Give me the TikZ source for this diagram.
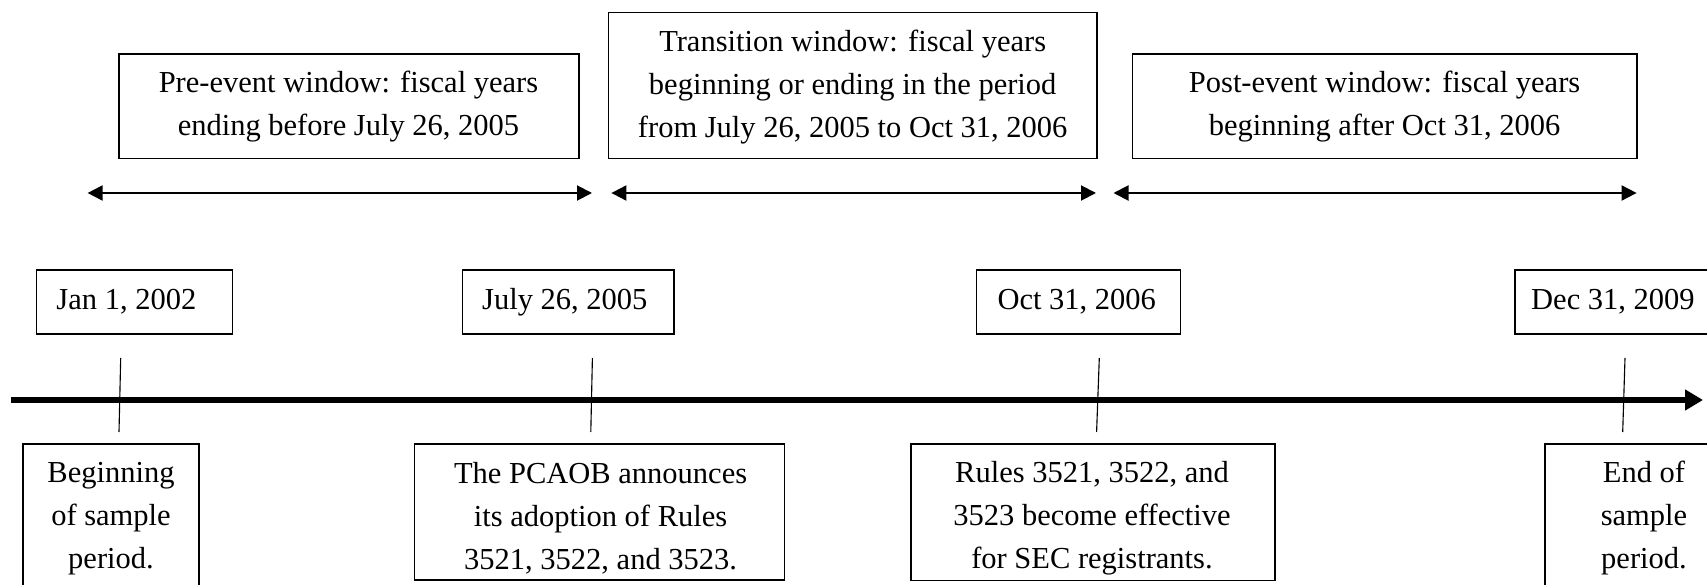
\documentclass[tikz,border=0pt]{standalone}
\usepackage{fontspec}
\setmainfont{Liberation Serif}
\usetikzlibrary{arrows.meta}
\def\pxu{0.4pt}
\begin{document}
\begin{tikzpicture}[x=0.4pt,y=-0.4pt,
  box/.style={draw, line width=0.55pt, inner sep=0pt},
  txt/.style={inner sep=0pt, align=center, font=\fontsize{12.2}{17.2}\selectfont},
  dtxt/.style={inner sep=0pt, anchor=base west, font=\fontsize{12.2}{17.2}\selectfont},
  winarrow/.style={line width=0.8pt, {Triangle[length=6pt,width=6pt]}-{Triangle[length=6pt,width=6pt]}},
  axisline/.style={line width=2.4pt, -{Triangle[length=7.2pt,width=8pt]}},
  tickline/.style={line width=0.45pt}]
\useasboundingbox (0,0) rectangle (1707,585);
\clip (0,0) rectangle (1707,585);

% window boxes
\node[box, minimum width=460*\pxu, minimum height=104.7*\pxu] (pre) at (349,106.35) {};
\node[box, minimum width=488.3*\pxu, minimum height=146.4*\pxu] (trans) at (852.85,85.5) {};
\node[box, minimum width=504.5*\pxu, minimum height=104.7*\pxu] (post) at (1384.75,106.35) {};
\node[txt] (pret) at (348.5,107) {Pre-event window: fiscal years\\ending before July 26, 2005};
\node[txt] (transt) at (852.7,87.5) {Transition window: fiscal years\\beginning or ending in the period\\from July 26, 2005 to Oct 31, 2006};
\node[txt] (postt) at (1384.6,107) {Post-event window: fiscal years\\beginning after Oct 31, 2006};

% window arrows
\coordinate (a1l) at (87.6,193);  \coordinate (a1r) at (592,193);
\coordinate (a2l) at (611.4,193); \coordinate (a2r) at (1096,193);
\coordinate (a3l) at (1113.5,193); \coordinate (a3r) at (1636.6,193);
\draw[winarrow] (a1l) -- (a1r);
\draw[winarrow] (a2l) -- (a2r);
\draw[winarrow] (a3l) -- (a3r);

% date boxes
\node[box, minimum width=196*\pxu, minimum height=64*\pxu] (d1) at (134.7,302) {};
\node[box, minimum width=211.3*\pxu, minimum height=64*\pxu] (d2) at (568.35,302) {};
\node[box, minimum width=204*\pxu, minimum height=64*\pxu] (d3) at (1078.7,302) {};
\node[box, minimum width=215*\pxu, minimum height=64*\pxu] (d4) at (1622.5,302) {};
\node[dtxt] (d1t) at (56,310) {Jan 1, 2002};
\node[dtxt] (d2t) at (481.7,310) {July 26, 2005};
\node[dtxt] (d3t) at (997,310) {Oct 31, 2006};
\node[dtxt] (d4t) at (1530.7,310) {Dec 31, 2009};

% axis
\coordinate (axl) at (11,400); \coordinate (axr) at (1703,400);
\draw[axisline] (axl) -- (axr);

% ticks
\coordinate (t1a) at (120.7,358); \coordinate (t1b) at (119,432);
\coordinate (t2a) at (592.4,358); \coordinate (t2b) at (590.8,432);
\coordinate (t3a) at (1099.3,358); \coordinate (t3b) at (1096.6,432);
\coordinate (t4a) at (1625,358); \coordinate (t4b) at (1622.7,432);
\draw[tickline] (t1a) -- (t1b);
\draw[tickline] (t2a) -- (t2b);
\draw[tickline] (t3a) -- (t3b);
\draw[tickline] (t4a) -- (t4b);

% bottom boxes
\node[box, minimum width=176*\pxu, minimum height=166*\pxu] (b1) at (111,527) {};
\node[box, minimum width=369.7*\pxu, minimum height=136*\pxu] (b2) at (599.55,512) {};
\node[box, minimum width=364*\pxu, minimum height=136.7*\pxu] (b3) at (1093,512.35) {};
\node[box, minimum width=198*\pxu, minimum height=166*\pxu] (b4) at (1644,527) {};
\node[txt] (b1t) at (111,518.5) {Beginning\\of sample\\period.};
\node[txt] (b2t) at (600.6,518.5) {The PCAOB announces\\its adoption of Rules\\3521, 3522, and 3523.};
\node[txt] (b3t) at (1092,518.5) {Rules 3521, 3522, and\\3523 become effective\\for SEC registrants.};
\node[txt] (b4t) at (1644,518.5) {End of\\sample\\period.};
\end{tikzpicture}
\end{document}
